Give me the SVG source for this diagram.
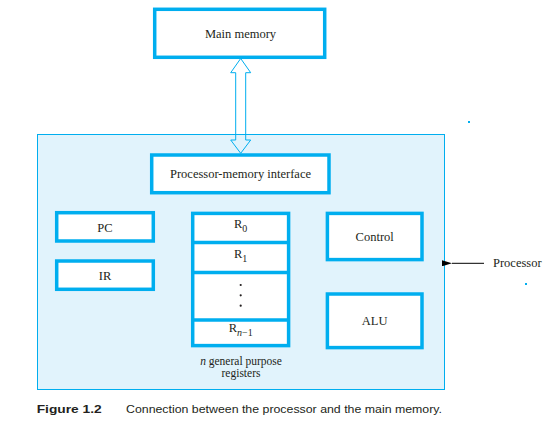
<svg xmlns="http://www.w3.org/2000/svg" width="556" height="436" viewBox="0 0 556 436">
<defs>
<style>
.box{fill:#ffffff;stroke:#00aeef;stroke-width:3.5}
.lbl{font-family:"Liberation Serif","Times New Roman",serif;font-size:12.5px;fill:#231f20;text-anchor:middle}
.sub{font-size:10px}
.cap{font-family:"Liberation Sans",Arial,sans-serif;font-size:11px;fill:#231f20}
</style>
<marker id="ah" markerWidth="10" markerHeight="6" refX="0" refY="3" orient="auto" markerUnits="userSpaceOnUse">
<path d="M10,0 L0,3 L10,6 Z" fill="#000"/>
</marker>
</defs>
<rect width="556" height="436" fill="#ffffff"/>
<g id="processor">
<rect x="37.5" y="134.5" width="407" height="255" fill="#e1f3fc" stroke="#00aeef" stroke-width="1"/>
</g>
<g id="main-memory">
<rect class="box" x="154.7" y="9.3" width="170" height="48" stroke-width="4"/>
<text class="lbl" x="240.5" y="37.5">Main memory</text>
</g>
<g id="connectors">
<polygon points="240.7,58.5 250.7,72.7 245.7,72.7 245.7,140 250.7,140 240.7,153.3 230.7,140 235.7,140 235.7,72.7 230.7,72.7" fill="none" stroke="#00aeef" stroke-width="1"/>
<line x1="484" y1="263.3" x2="452" y2="263.3" stroke="#000" stroke-width="1" marker-end="url(#ah)"/>
</g>
<g id="pm-interface">
<rect class="box" x="151.7" y="155" width="177.3" height="37.7"/>
<text class="lbl" x="240.5" y="177.7">Processor-memory interface</text>
</g>
<g id="pc">
<rect class="box" x="56.7" y="212.7" width="96.6" height="28.3"/>
<text class="lbl" x="105" y="231.7">PC</text>
</g>
<g id="ir">
<rect class="box" x="56.7" y="261" width="96.6" height="28.3"/>
<text class="lbl" x="105" y="280">IR</text>
</g>
<g id="registers">
<rect class="box" x="192.7" y="213.4" width="95.9" height="132.2"/>
<line x1="192.7" y1="242.4" x2="288.6" y2="242.4" stroke="#00aeef" stroke-width="3.5"/>
<line x1="192.7" y1="272.4" x2="288.6" y2="272.4" stroke="#00aeef" stroke-width="3.5"/>
<line x1="192.7" y1="320" x2="288.6" y2="320" stroke="#00aeef" stroke-width="3.5"/>
<text class="lbl" x="240.7" y="228.3">R<tspan class="sub" dy="4">0</tspan></text>
<text class="lbl" x="240.7" y="258.3">R<tspan class="sub" dy="4">1</tspan></text>
<circle cx="240.7" cy="285" r="1.1" fill="#231f20"/>
<circle cx="240.7" cy="295.3" r="1.1" fill="#231f20"/>
<circle cx="240.7" cy="305.7" r="1.1" fill="#231f20"/>
<text class="lbl" x="240.7" y="332.3">R<tspan class="sub" dy="4"><tspan font-style="italic">n</tspan>−1</tspan></text>
<text class="lbl" x="241" y="364.5" style="font-size:11.5px"><tspan font-style="italic">n</tspan> general purpose</text>
<text class="lbl" x="241" y="376.5" style="font-size:11.5px">registers</text>
</g>
<g id="control">
<rect class="box" x="327.4" y="213.4" width="94.6" height="46.2"/>
<text class="lbl" x="374.7" y="240.7">Control</text>
</g>
<g id="alu">
<rect class="box" x="327.4" y="294" width="94.6" height="53.6"/>
<text class="lbl" x="374.7" y="325">ALU</text>
</g>
<g id="processor-label">
<text class="lbl" x="493" y="267" style="text-anchor:start">Processor</text>
</g>
<rect x="468" y="121" width="2" height="2" fill="#00aeef"/>
<rect x="525" y="283" width="2" height="2" fill="#00aeef"/>
<g id="caption">
<text class="cap" x="36.7" y="413" font-weight="bold" textLength="65" lengthAdjust="spacingAndGlyphs">Figure 1.2</text>
<text class="cap" x="126" y="413" textLength="316" lengthAdjust="spacingAndGlyphs">Connection between the processor and the main memory.</text>
</g>
</svg>
